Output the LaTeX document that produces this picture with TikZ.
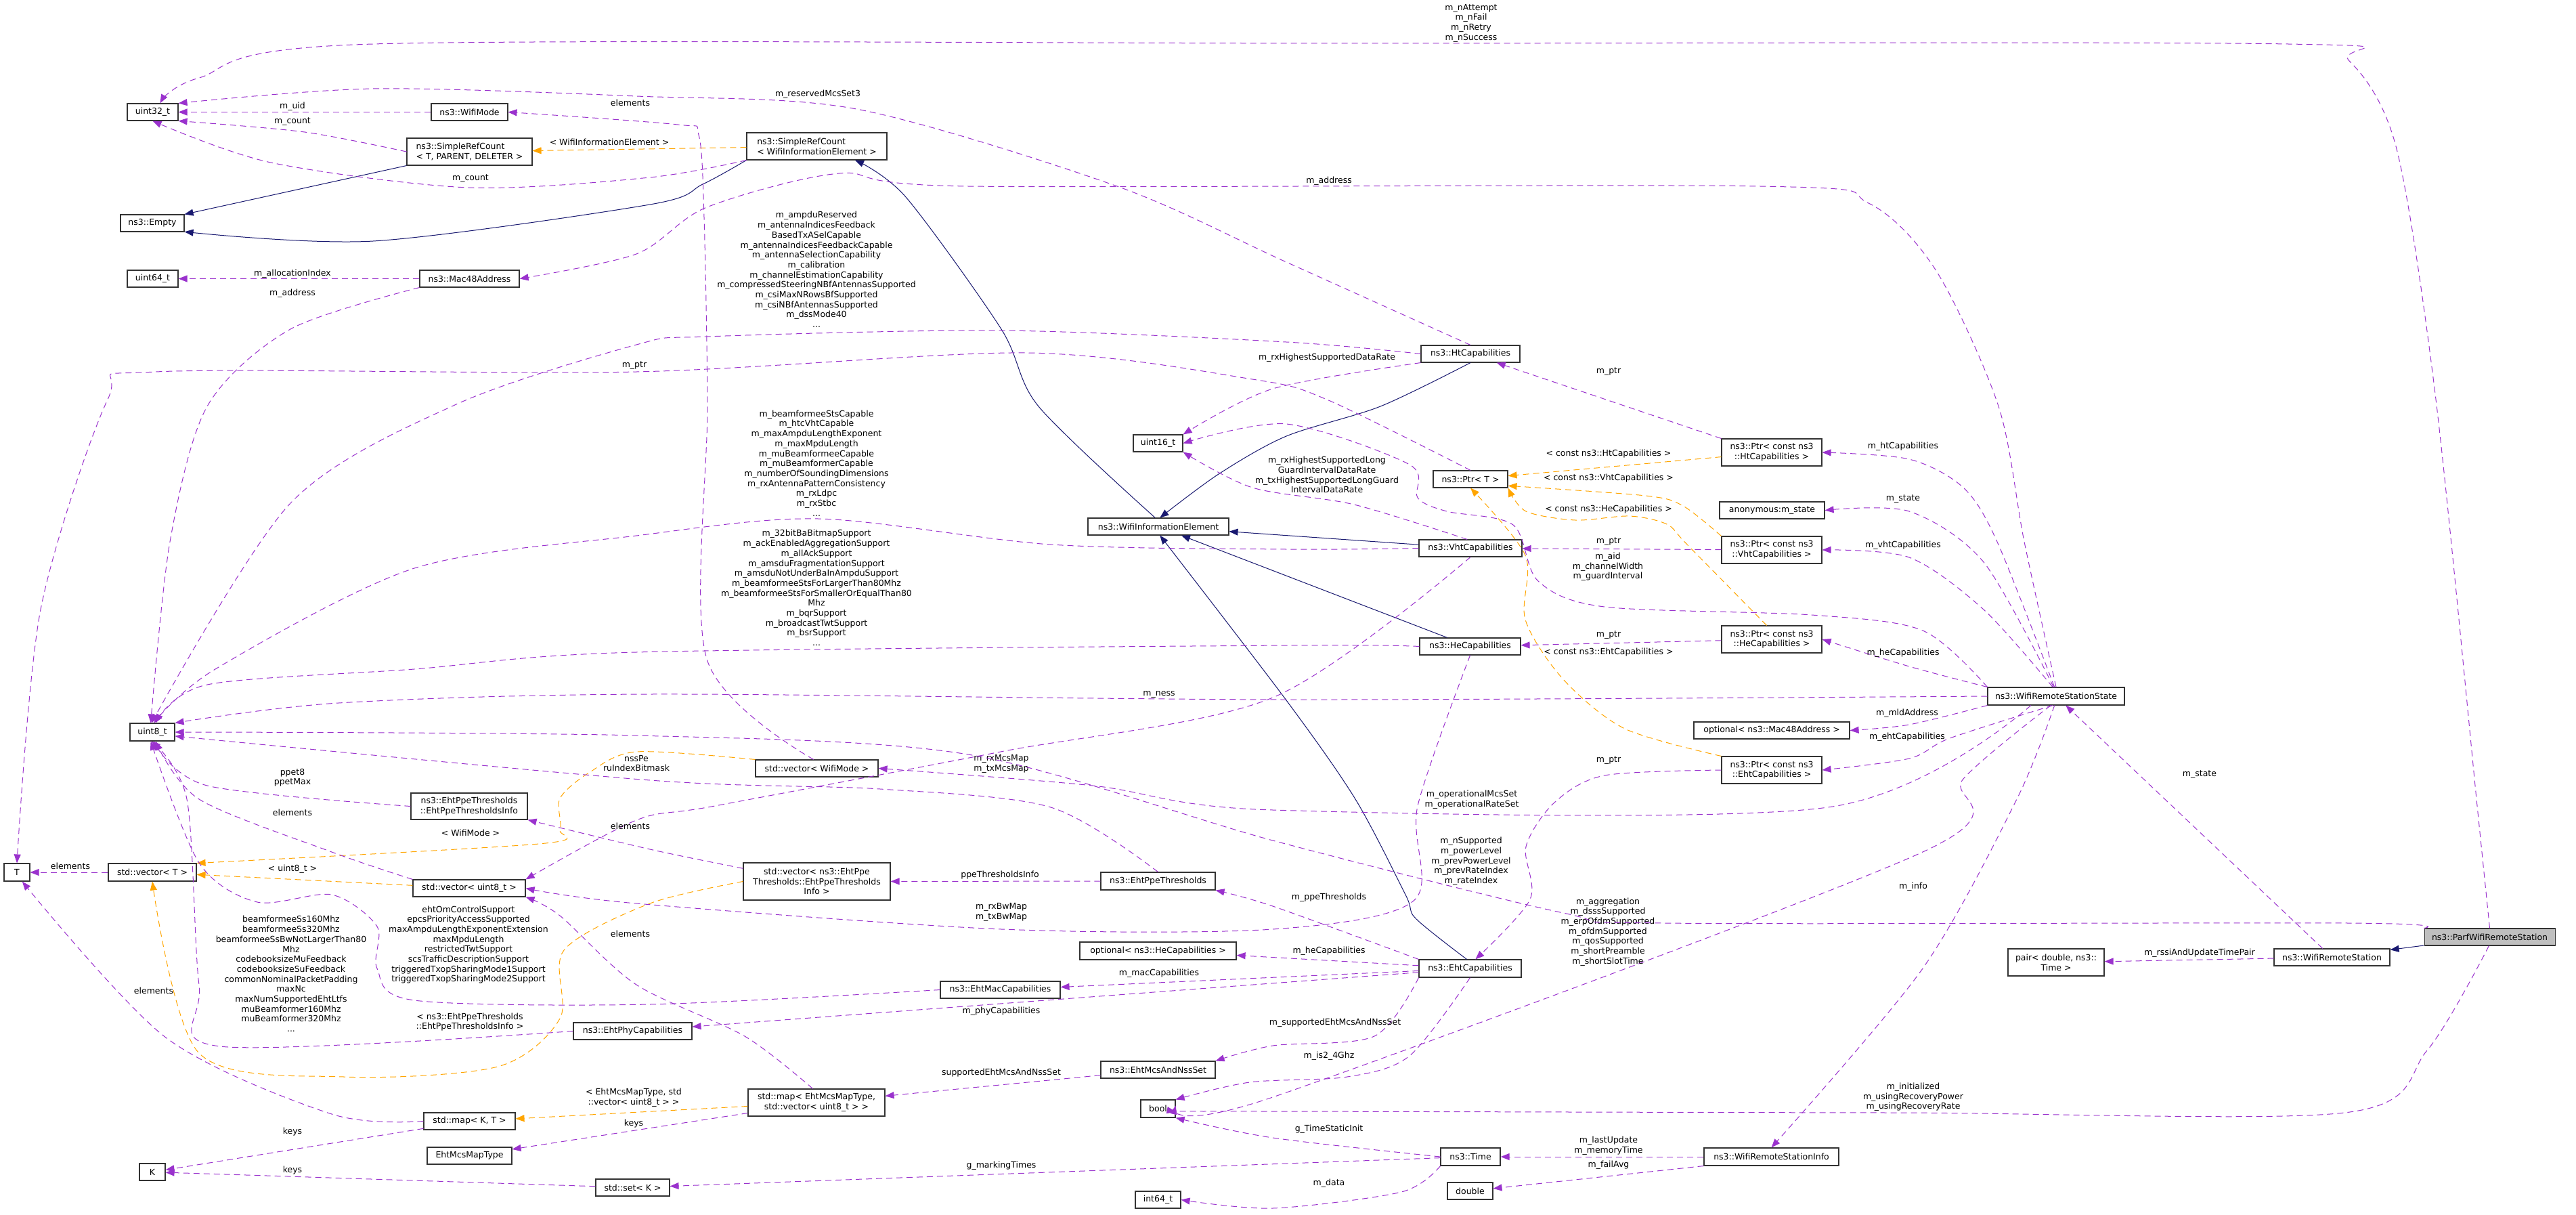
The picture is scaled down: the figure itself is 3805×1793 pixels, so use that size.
\documentclass[tikz,border=0pt]{standalone}
\usepackage{fontspec}
\newfontfamily\dgfont{DejaVu Sans}
\newcommand\dgf{\dgfont\fontsize{12.5pt}{14.7pt}\selectfont}
\usetikzlibrary{arrows.meta}
\definecolor{usecol}{HTML}{9A32CD}
\definecolor{tmplcol}{HTML}{FFA500}
\definecolor{inhcol}{HTML}{191970}
\tikzset{
  cls/.style={draw=black!80, line width=1.1pt, fill=white, inner sep=0pt, font=\dgf, align=center},
  lbl/.style={font=\dgf, align=center, inner sep=0pt},
  usage/.style={draw=usecol, dash pattern=on 9pt off 6pt, line width=1pt, -{Triangle[length=13pt,width=10pt]}},
  tmpl/.style={usage, draw=tmplcol},
  inh/.style={draw=inhcol, line width=1pt, -{Triangle[length=13pt,width=10pt]}},
}
\begin{document}
\begin{tikzpicture}[x=1pt, y=-1pt]
    \useasboundingbox (0,0) rectangle (3805,1793);

    % classes
    \node (u32)    [cls, minimum width=75,  minimum height=25] at (225.5,165.5) {uint32\_t};
    \node (wmode)  [cls, minimum width=113, minimum height=25] at (693.5,165.5) {ns3::WifiMode};
    \node (srcT)   [cls, minimum width=185, minimum height=40, align=left] at (693.5,224) {ns3::SimpleRefCount\\< T, PARENT, DELETER >};
    \node (srcW)   [cls, minimum width=207, minimum height=40, align=left] at (1206.5,216) {ns3::SimpleRefCount\\< WifiInformationElement >};
    \node (empty)  [cls, minimum width=94,  minimum height=25] at (225,329.5) {ns3::Empty};
    \node (u64)    [cls, minimum width=75,  minimum height=25] at (225.5,411.5) {uint64\_t};
    \node (mac)    [cls, minimum width=147, minimum height=25] at (693.5,411.5) {ns3::Mac48Address};
    \node (ht)     [cls, minimum width=146, minimum height=25] at (2172,522.5) {ns3::HtCapabilities};
    \node (u16)    [cls, minimum width=73,  minimum height=25] at (1710.5,654.5) {uint16\_t};
    \node (wie)    [cls, minimum width=208, minimum height=25] at (1711,777.5) {ns3::WifiInformationElement};
    \node (ptrT)   [cls, minimum width=110, minimum height=25] at (2172,707.5) {ns3::Ptr< T >};
    \node (ptrHt)  [cls, minimum width=148, minimum height=40] at (2617,668) {ns3::Ptr< const ns3\\::HtCapabilities >};
    \node (anon)   [cls, minimum width=155, minimum height=25] at (2617.5,753.5) {anonymous:m\_state};
    \node (vht)    [cls, minimum width=152, minimum height=25] at (2172,809.5) {ns3::VhtCapabilities};
    \node (ptrVht) [cls, minimum width=148, minimum height=40] at (2617,812) {ns3::Ptr< const ns3\\::VhtCapabilities >};
    \node (he)     [cls, minimum width=149, minimum height=25] at (2171.5,954.5) {ns3::HeCapabilities};
    \node (ptrHe)  [cls, minimum width=148, minimum height=40] at (2617,944) {ns3::Ptr< const ns3\\::HeCapabilities >};
    \node (wrss)   [cls, minimum width=202, minimum height=26] at (3037,1028) {ns3::WifiRemoteStationState};
    \node (u8)     [cls, minimum width=66,  minimum height=26] at (225,1081) {uint8\_t};
    \node (optMac) [cls, minimum width=230, minimum height=25] at (2617,1078.5) {optional< ns3::Mac48Address >};
    \node (vwm)    [cls, minimum width=181, minimum height=25] at (1206.5,1134.5) {std::vector< WifiMode >};
    \node (ptrEht) [cls, minimum width=148, minimum height=40] at (2617,1137) {ns3::Ptr< const ns3\\::EhtCapabilities >};
    \node (ppeInfo)[cls, minimum width=172, minimum height=39] at (693,1190.5) {ns3::EhtPpeThresholds\\::EhtPpeThresholdsInfo};
    \node (T)      [cls, minimum width=38,  minimum height=26] at (25,1288) {T};
    \node (vT)     [cls, minimum width=130, minimum height=26] at (225,1288) {std::vector< T >};
    \node (v8)     [cls, minimum width=166, minimum height=25] at (693,1311.5) {std::vector< uint8\_t >};
    \node (vPpe)   [cls, minimum width=217, minimum height=55] at (1206.5,1301.5) {std::vector< ns3::EhtPpe\\Thresholds::EhtPpeThresholds\\Info >};
    \node (ppe)    [cls, minimum width=169, minimum height=26] at (1710.5,1301) {ns3::EhtPpeThresholds};
    \node (optHe)  [cls, minimum width=231, minimum height=26] at (1710.5,1404) {optional< ns3::HeCapabilities >};
    \node (eht)    [cls, minimum width=151, minimum height=26] at (2171.5,1430) {ns3::EhtCapabilities};
    \node (ehtMac) [cls, minimum width=177, minimum height=25] at (1477.5,1461.5) {ns3::EhtMacCapabilities};
    \node (ehtPhy) [cls, minimum width=175, minimum height=25] at (934.5,1522.5) {ns3::EhtPhyCapabilities};
    \node (pair)   [cls, minimum width=142, minimum height=40] at (3037,1421) {pair< double, ns3::\\Time >};
    \node (wrs)    [cls, minimum width=171, minimum height=25] at (3444.5,1413.5) {ns3::WifiRemoteStation};
    \node (parf)   [cls, minimum width=193, minimum height=25, fill=black!25] at (3677.5,1383.5) {ns3::ParfWifiRemoteStation};
    \node (nss)    [cls, minimum width=169, minimum height=25] at (1710.5,1579.5) {ns3::EhtMcsAndNssSet};
    \node (mapKT)  [cls, minimum width=135, minimum height=25] at (693.5,1655.5) {std::map< K, T >};
    \node (mapEht) [cls, minimum width=202, minimum height=40] at (1206,1628) {std::map< EhtMcsMapType,\\std::vector< uint8\_t > >};
    \node (bool)   [cls, minimum width=51,  minimum height=26] at (1710.5,1637) {bool};
    \node (K)      [cls, minimum width=38,  minimum height=25] at (225,1730.5) {K};
    \node (mcsType)[cls, minimum width=125, minimum height=25] at (693.5,1706.5) {EhtMcsMapType};
    \node (time)   [cls, minimum width=88,  minimum height=26] at (2172,1708) {ns3::Time};
    \node (wrsi)   [cls, minimum width=199, minimum height=26] at (2616.5,1708) {ns3::WifiRemoteStationInfo};
    \node (setK)   [cls, minimum width=109, minimum height=25] at (934.5,1753.5) {std::set< K >};
    \node (i64)    [cls, minimum width=67,  minimum height=25] at (1710.5,1771.5) {int64\_t};
    \node (dbl)    [cls, minimum width=67,  minimum height=25] at (2171.5,1758.5) {double};

    % inheritance
    \draw[inh] (srcT.south west) -- (empty.north east);
    \draw[inh] plot[smooth] coordinates {(srcW.south west) (1038,272) (960,302) (551,356) (empty.-15)};
    \draw[inh] plot[smooth] coordinates {(wie.110) (1534,600) (1479,486) (1338,291) (srcW.-20)};
    \draw[inh] plot[smooth] coordinates {(ht.south) (2039,600) (1900,644) (1800,700) (wie.80)};
    \draw[inh] (vht) -- (wie);
    \draw[inh] (he) -- (wie);
    \draw[inh] plot[smooth] coordinates {(eht.110) (2091,1356) (2076,1321) (2002,1180) (1900,1034) (wie.-80)};
    \draw[inh] (parf) -- (wrs);

    % templates
    \draw[tmpl] (srcW) -- (srcT) node[lbl] at (900,210) {< WifiInformationElement >};
    \draw[tmpl] (ptrHt) -- (ptrT) node[lbl] at (2376,670) {< const ns3::HtCapabilities >};
    \draw[tmpl] plot[smooth] coordinates {(ptrVht.north west) (2486,747) (2431,732) (ptrT.-10)} node[lbl] at (2376,706) {< const ns3::VhtCapabilities >};
    \draw[tmpl] plot[smooth] coordinates {(ptrHe.110) (2492,804) (2462,774) (2407,762) (2327,768) (2254,755) (ptrT.south east)} node[lbl] at (2376,752) {< const ns3::HeCapabilities >};
    \draw[tmpl] plot[smooth] coordinates {(ptrEht.north west) (2400,1076) (2309,1003) (2253,915) (2253,820) (ptrT.south)} node[lbl] at (2376,963) {< const ns3::EhtCapabilities >};
    \draw[tmpl] plot[smooth] coordinates {(vwm.north west) (940,1110) (870,1141) (827,1179) (827,1225) (796,1246) (vT.north east)} node[lbl] at (695,1230) {< WifiMode >};
    \draw[tmpl] (v8) -- (vT) node[lbl] at (432,1283) {< uint8\_t >};
    \draw[tmpl] plot[smooth] coordinates {(vPpe.west) (960,1334) (833,1403) (827,1504) (735,1575) (508,1590) (294,1555) (vT.south)} node[lbl] at (694,1509) {< ns3::EhtPpeThresholds\\::EhtPpeThresholdsInfo >};
    \draw[tmpl] (mapEht) -- (mapKT) node[lbl] at (936,1621) {< EhtMcsMapType, std\\::vector< uint8\_t > >};

    % members
    \draw[usage] plot[smooth] coordinates {(parf.north) (3659,1190) (3598,590) (3540,220) (3470,90) (3380,65) (2000,64) (551,65) (294,115) (u32.50)} node[lbl] at (2173,34) {m\_nAttempt\\m\_nFail\\m\_nRetry\\m\_nSuccess};
    \draw[usage] (wmode) -- (u32) node[lbl] at (432,157) {m\_uid};
    \draw[usage] plot[smooth] coordinates {(srcT.west) (450,195) (u32.south east)} node[lbl] at (432,180) {m\_count};
    \draw[usage] plot[smooth] coordinates {(srcW.south west) (960,262) (692,277) (400,240) (u32.south)} node[lbl] at (695,264) {m\_count};
    \draw[usage] plot[smooth] coordinates {(ht.north) (1900,387) (1650,275) (1265,161) (940,142) (551,131) (u32.north east)} node[lbl] at (1208,139) {m\_reservedMcsSet3};
    \draw[usage] plot[smooth] coordinates {(vwm.110) (1044,973) (1045,600) (1040,321) (1032,199) (1001,184) (wmode.east)} node[lbl] at (931,152) {elements};
    \draw[usage] plot[smooth] coordinates {(wrss.north) (2990,800) (2952,600) (2860,400) (2760,300) (2600,275) (1430,275) (1240,256) (1044,306) (940,375) (mac.east)} node[lbl] at (1963,267) {m\_address};
    \draw[usage] (mac) -- (u64) node[lbl] at (432,404) {m\_allocationIndex};
    \draw[usage] plot[smooth] coordinates {(mac.south west) (429,486) (306,600) (251,800) (u8.100)} node[lbl] at (432,433) {m\_address};
    \draw[usage] plot[smooth] coordinates {(ptrT.north) (1960,590) (1850,560) (1516,521) (940,549) (230,549) (159,590) (60,900) (T.north)} node[lbl] at (937,540) {m\_ptr};
    \draw[usage] plot[smooth] coordinates {(ht.south west) (1880,574) (u16.north east)} node[lbl] at (1960,528) {m\_rxHighestSupportedDataRate};
    \draw[usage] plot[smooth] coordinates {(vht.110) (2000,745) (1850,720) (u16.south east)} node[lbl] at (1960,701) {m\_rxHighestSupportedLong\\GuardIntervalDataRate\\m\_txHighestSupportedLongGuard\\IntervalDataRate};
    \draw[usage] plot[smooth] coordinates {(wrss.north west) (2840,931) (2676,908) (2370,896) (2272,858) (2235,775) (2137,755) (2094,735) (2082,686) (1900,626) (u16.east)} node[lbl] at (2375,837) {m\_aid\\m\_channelWidth\\m\_guardInterval};
    \draw[usage] (ptrHt.north west) -- (ht) node[lbl] at (2376,549) {m\_ptr};
    \draw[usage] plot[smooth] coordinates {(wrss.100) (2950,800) (2900,720) (2820,678) (ptrHt.east)} node[lbl] at (2811,659) {m\_htCapabilities};
    \draw[usage] plot[smooth] coordinates {(wrss.105) (2930,830) (2820,755) (anon.east)} node[lbl] at (2811,737) {m\_state};
    \draw[usage] plot[smooth] coordinates {(wrss.110) (2930,900) (2820,823) (ptrVht.east)} node[lbl] at (2811,805) {m\_vhtCapabilities};
    \draw[usage] (ptrVht) -- (vht) node[lbl] at (2376,800) {m\_ptr};
    \draw[usage] plot[smooth] coordinates {(wrss.north west) (2820,984) (ptrHe.east)} node[lbl] at (2811,964) {m\_heCapabilities};
    \draw[usage] (ptrHe) -- (he) node[lbl] at (2376,938) {m\_ptr};
    \draw[usage] plot[smooth] coordinates {(wrss.west) (1900,1033) (960,1025) (500,1038) (u8.north east)} node[lbl] at (1712,1025) {m\_ness};
    \draw[usage] plot[smooth] coordinates {(wrss.south west) (2820,1070) (optMac.east)} node[lbl] at (2817,1053) {m\_mldAddress};
    \draw[usage] plot[smooth] coordinates {(wrss.250) (2880,1090) (2820,1120) (ptrEht.east)} node[lbl] at (2817,1088) {m\_ehtCapabilities};
    \draw[usage] plot[smooth] coordinates {(ptrEht.west) (2370,1145) (2296,1185) (2254,1250) (2260,1328) (eht.60)} node[lbl] at (2376,1123) {m\_ptr};
    \draw[usage] plot[smooth] coordinates {(ht.west) (1900,505) (1479,488) (1044,497) (940,509) (674,597) (429,743) (u8.95)} node[lbl] at (1206,398) {m\_ampduReserved\\m\_antennaIndicesFeedback\\BasedTxASelCapable\\m\_antennaIndicesFeedbackCapable\\m\_antennaSelectionCapability\\m\_calibration\\m\_channelEstimationCapability\\m\_compressedSteeringNBfAntennasSupported\\m\_csiMaxNRowsBfSupported\\m\_csiNBfAntennasSupported\\m\_dssMode40\\...};
    \draw[usage] plot[smooth] coordinates {(vht.west) (1900,811) (1552,804) (1209,766) (940,791) (612,839) (318,988) (u8.80)} node[lbl] at (1206,684) {m\_beamformeeStsCapable\\m\_htcVhtCapable\\m\_maxAmpduLengthExponent\\m\_maxMpduLength\\m\_muBeamformeeCapable\\m\_muBeamformerCapable\\m\_numberOfSoundingDimensions\\m\_rxAntennaPatternConsistency\\m\_rxLdpc\\m\_rxStbc\\...};
    \draw[usage] plot[smooth] coordinates {(he.west) (1900,953) (940,963) (612,988) (306,1011) (u8.70)} node[lbl] at (1206,868) {m\_32bitBaBitmapSupport\\m\_ackEnabledAggregationSupport\\m\_allAckSupport\\m\_amsduFragmentationSupport\\m\_amsduNotUnderBaInAmpduSupport\\m\_beamformeeStsForLargerThan80Mhz\\m\_beamformeeStsForSmallerOrEqualThan80\\Mhz\\m\_bqrSupport\\m\_broadcastTwtSupport\\m\_bsrSupport\\...};
    \draw[usage] plot[smooth] coordinates {(vht.south) (1880,1030) (1478,1110) (1056,1190) (940,1211) (v8.north east)} node[lbl] at (1479,1128) {m\_rxMcsMap\\m\_txMcsMap};
    \draw[usage] plot[smooth] coordinates {(wrss.-160) (2700,1192) (1880,1196) (1614,1160) (vwm.east)} node[lbl] at (2174,1181) {m\_operationalMcsSet\\m\_operationalRateSet};
    \draw[usage] plot[smooth] coordinates {(ppeInfo.west) (306,1160) (u8.-80)} node[lbl] at (432,1148) {ppet8\\ppetMax};
    \draw[usage] (vT) -- (T) node[lbl] at (104,1279) {elements};
    \draw[usage] plot[smooth] coordinates {(v8.north west) (490,1258) (294,1180) (u8.-70)} node[lbl] at (432,1200) {elements};
    \draw[usage] plot[smooth] coordinates {(vPpe.170) (960,1254) (ppeInfo.south east)} node[lbl] at (931,1220) {elements};
    \draw[usage] (ppe) -- (vPpe) node[lbl] at (1477,1292) {ppeThresholdsInfo};
    \draw[usage] plot[smooth] coordinates {(mapEht.105) (1100,1530) (940,1454) (827,1352) (v8.south east)} node[lbl] at (931,1379) {elements};
    \draw[usage] plot[smooth] coordinates {(he.south) (2094,1190) (2088,1330) (1880,1372) (1479,1372) (940,1334) (v8.east)} node[lbl] at (1479,1347) {m\_rxBwMap\\m\_txBwMap};
    \draw[usage] plot[smooth] coordinates {(eht.north west) (1880,1338) (ppe.south east)} node[lbl] at (1963,1325) {m\_ppeThresholds};
    \draw[usage] (eht) -- (optHe) node[lbl] at (1963,1404) {m\_heCapabilities};
    \draw[usage] (eht) -- (ehtMac) node[lbl] at (1712,1437) {m\_macCapabilities};
    \draw[usage] (eht) -- (ehtPhy) node[lbl] at (1479,1493) {m\_phyCapabilities};
    \draw[usage] plot[smooth] coordinates {(eht.south west) (2030,1530) (1880,1544) (nss.north east)} node[lbl] at (1972,1510) {m\_supportedEhtMcsAndNssSet};
    \draw[usage] plot[smooth] coordinates {(eht.south) (2082,1559) (1990,1590) (1846,1598) (bool.north east)} node[lbl] at (1963,1559) {m\_is2\_4Ghz};
    \draw[usage] (nss) -- (mapEht) node[lbl] at (1479,1584) {supportedEhtMcsAndNssSet};
    \draw[usage] plot[smooth] coordinates {(ehtMac.west) (960,1483) (612,1477) (557,1430) (557,1368) (490,1321) (380,1332) (294,1274) (u8.-100)} node[lbl] at (692,1395) {ehtOmControlSupport\\epcsPriorityAccessSupported\\maxAmpduLengthExponentExtension\\maxMpduLength\\restrictedTwtSupport\\scsTrafficDescriptionSupport\\triggeredTxopSharingMode1Support\\triggeredTxopSharingMode2Support};
    \draw[usage] plot[smooth] coordinates {(ehtPhy.west) (325,1545) (294,1454) (276,1180) (u8.-95)} node[lbl] at (430,1438) {beamformeeSs160Mhz\\beamformeeSs320Mhz\\beamformeeSsBwNotLargerThan80\\Mhz\\codebooksizeMuFeedback\\codebooksizeSuFeedback\\commonNominalPacketPadding\\maxNc\\maxNumSupportedEhtLtfs\\muBeamformer160Mhz\\muBeamformer320Mhz\\...};
    \draw[usage] plot[smooth] coordinates {(mapKT.west) (490,1645) (245,1532) (T.-60)} node[lbl] at (227,1463) {elements};
    \draw[usage] (mapKT) -- (K) node[lbl] at (432,1671) {keys};
    \draw[usage] (setK) -- (K) node[lbl] at (432,1728) {keys};
    \draw[usage] (mapEht) -- (mcsType) node[lbl] at (936,1659) {keys};
    \draw[usage] (time) -- (setK) node[lbl] at (1479,1721) {g\_markingTimes};
    \draw[usage] plot[smooth] coordinates {(time.west) (1880,1680) (bool.south east)} node[lbl] at (1963,1667) {g\_TimeStaticInit};
    \draw[usage] plot[smooth] coordinates {(time.south west) (2070,1760) (1880,1784) (i64.east)} node[lbl] at (1963,1747) {m\_data};
    \draw[usage] (wrsi) -- (time) node[lbl] at (2376,1692) {m\_lastUpdate\\m\_memoryTime};
    \draw[usage] (wrsi.south west) -- (dbl) node[lbl] at (2376,1720) {m\_failAvg};
    \draw[usage] plot[smooth] coordinates {(wrss.-100) (2979,1180) (2840,1430) (wrsi.north)} node[lbl] at (2826,1309) {m\_info};
    \draw[usage] (wrs) -- (wrss) node[lbl] at (3249,1144) {m\_state};
    \draw[usage] (wrs) -- (pair) node[lbl] at (3249,1407) {m\_rssiAndUpdateTimePair};
    \draw[usage] plot[smooth] coordinates {(parf.-95) (3585,1551) (3463,1643) (2800,1643) (1880,1641) (bool.-10)} node[lbl] at (2826,1620) {m\_initialized\\m\_usingRecoveryPower\\m\_usingRecoveryRate};
    \draw[usage] plot[smooth] coordinates {(wrss.-120) (2900,1150) (2840,1258) (1880,1620) (bool.10)} node[lbl] at (2375,1376) {m\_aggregation\\m\_dsssSupported\\m\_erpOfdmSupported\\m\_ofdmSupported\\m\_qosSupported\\m\_shortPreamble\\m\_shortSlotTime};
    \draw[usage] plot[smooth] coordinates {(parf.north west) (3470,1363) (2460,1363) (2309,1348) (1880,1241) (1430,1114) (940,1086) (u8.east)} node[lbl] at (2173,1272) {m\_nSupported\\m\_powerLevel\\m\_prevPowerLevel\\m\_prevRateIndex\\m\_rateIndex};
    \draw[usage] plot[smooth] coordinates {(ppe.north) (1552,1192) (1300,1165) (960,1152) (u8.-10)} node[lbl] at (940,1127) {nssPe\\ruIndexBitmask};
\end{tikzpicture}
\end{document}
